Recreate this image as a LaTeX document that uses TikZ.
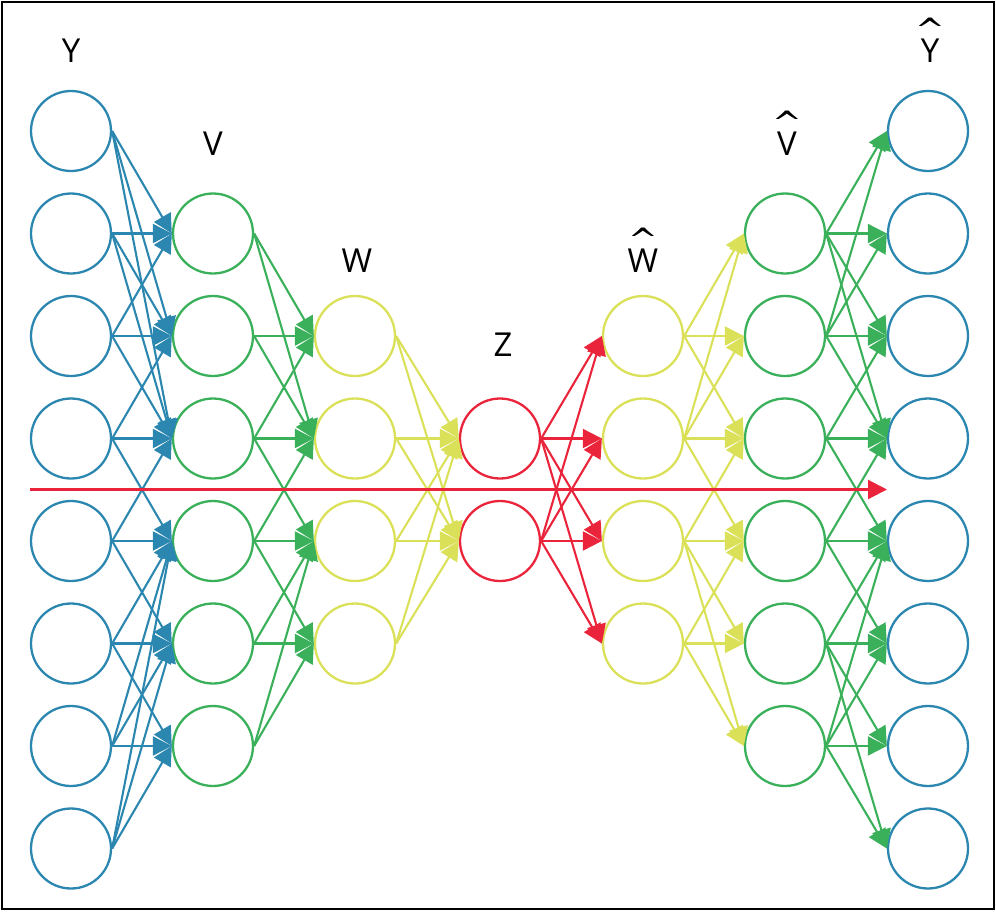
\documentclass[tikz,border=0pt]{standalone}
\usepackage{fontspec}
\setmainfont{Open Sans}
\usetikzlibrary{arrows.meta}
\definecolor{netblue}{RGB}{44,135,176}
\definecolor{netgreen}{RGB}{58,176,90}
\definecolor{netyellow}{RGB}{218,224,88}
\definecolor{netred}{RGB}{234,36,58}
\newcommand\hatted[1]{\setbox0\hbox{#1}\rlap{\hbox to\wd0{\hss\raisebox{4pt}{\scalebox{2.3}[1.6]{\fontspec{Open Sans Light}ˆ}}\hss}}#1}

\begin{document}
\begin{tikzpicture}[x=1pt,y=-1pt,
  unit/.style={circle,draw,line width=2.3pt,minimum size=80pt,inner sep=0pt},
  link/.style={line width=2.1pt,-{Triangle[length=19pt,width=19pt]}},
  lbl/.style={anchor=base,inner sep=0pt,font=\fontsize{33}{35}\selectfont}]
\useasboundingbox (0,0) rectangle (996,911);
\draw[line width=2.5pt] (2,2) rectangle (994,909);
% layers
\foreach \i in {1,...,8} {
  \node[unit,draw=netblue] (y\i) at (71,131+102.5*\i-102.5) {};
  \node[unit,draw=netblue] (yh\i) at (928,131+102.5*\i-102.5) {};
}
\foreach \i in {1,...,6} {
  \node[unit,draw=netgreen] (v\i) at (213,233.5+102.5*\i-102.5) {};
  \node[unit,draw=netgreen] (vh\i) at (785,233.5+102.5*\i-102.5) {};
}
\foreach \i in {1,...,4} {
  \node[unit,draw=netyellow] (w\i) at (355,336+102.5*\i-102.5) {};
  \node[unit,draw=netyellow] (wh\i) at (643,336+102.5*\i-102.5) {};
}
\foreach \i in {1,2}
  \node[unit,draw=netred] (z\i) at (500,438.5+102.5*\i-102.5) {};
% labels
\node[lbl] (ly) at (71,62) {Y};
\node[lbl] (lv) at (213,155) {V};
\node[lbl] (lw) at (357,272) {W};
\node[lbl] (lz) at (503,356) {Z};
\node[lbl] (lwh) at (643,272) {\hatted{W}};
\node[lbl] (lvh) at (787,155) {\hatted{V}};
\node[lbl] (lyh) at (930,62) {\hatted{Y}};
% encoder
\foreach \a/\b in {1/1,1/2,1/3,2/1,2/2,2/3,3/1,3/2,3/3,4/2,4/3,4/4,
                   5/3,5/4,5/5,6/4,6/5,6/6,7/4,7/5,7/6,8/4,8/5,8/6}
  \draw[link,netblue] (y\a.east) -- (v\b.west);
\foreach \a/\b in {1/1,1/2,2/1,2/2,3/1,3/2,3/3,4/2,4/3,4/4,5/3,5/4,6/3,6/4}
  \draw[link,netgreen] (v\a.east) -- (w\b.west);
\foreach \a in {1,...,4}
  \foreach \b in {1,2}
    \draw[link,netyellow] (w\a.east) -- (z\b.west);
% decoder
\foreach \a in {1,2}
  \foreach \b in {1,...,4}
    \draw[link,netred] (z\a.east) -- (wh\b.west);
\foreach \a/\b in {1/1,1/2,1/3,2/1,2/2,2/3,2/4,3/3,3/4,3/5,3/6,4/4,4/5,4/6}
  \draw[link,netyellow] (wh\a.east) -- (vh\b.west);
\foreach \a/\b in {1/1,1/2,1/3,1/4,2/1,2/2,2/3,2/4,3/3,3/4,3/5,4/4,4/5,4/6,
                   5/5,5/6,5/7,5/8,6/5,6/6,6/7,6/8}
  \draw[link,netgreen] (vh\a.east) -- (yh\b.west);
% skip line
\coordinate (skipa) at (30,489.5);
\coordinate (skipb) at (887,489.5);
\draw[link,netred] (skipa) -- (skipb);
\end{tikzpicture}
\end{document}
